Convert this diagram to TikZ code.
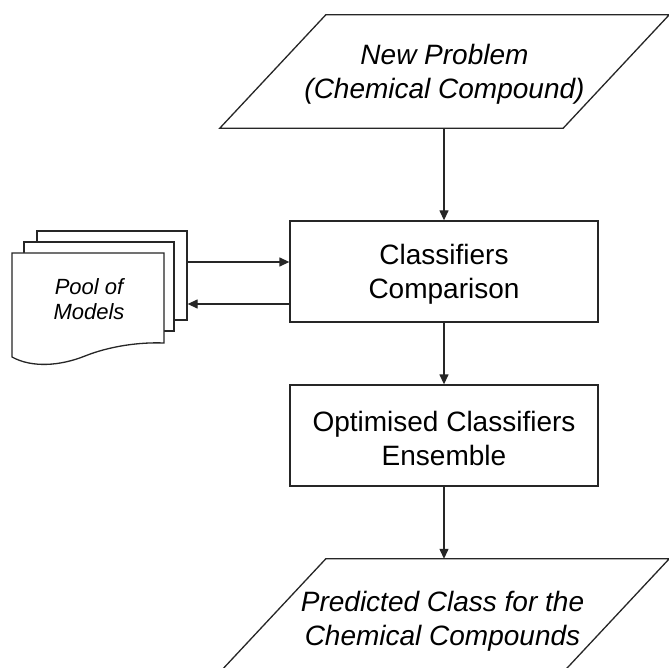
\documentclass[tikz,border=0pt]{standalone}
\usepackage{fontspec}
\setmainfont{Liberation Sans}
\usetikzlibrary{arrows.meta,calc}

\tikzset{
  line/.style={draw=black!85, line width=1.3pt},
  arr/.style={line, -{Triangle[length=10pt,width=9pt]}},
  procbox/.style={line, rectangle, minimum width=308pt, minimum height=101pt,
    inner sep=0pt},
  ioframe/.style={rectangle, minimum width=449pt, minimum height=113pt,
    inner sep=0pt},
  proctext/.style={align=center, inner sep=0pt, font=\fontsize{28}{34}\selectfont},
  iotext/.style={proctext, font=\fontsize{28}{34}\selectfont\itshape},
  sheet/.style={line, fill=white},
}

\begin{document}
\begin{tikzpicture}[x=1pt,y=-1pt]
\useasboundingbox (0,0) rectangle (669,668);
\clip (0,0) rectangle (669,668);
\fill[white] (0,0) rectangle (669,668);

% input / output parallelograms
\node[ioframe] (np) at (444.5,71.5) {};
\draw[line] ([xshift=106pt]np.north west) -- (np.north east)
  -- ([xshift=-106pt]np.south east) -- (np.south west) -- cycle;
\node[iotext] (np-text) at ([yshift=-3pt]np.center) {New Problem\\(Chemical Compound)};

\node[ioframe] (pc) at (444.5,615.5) {};
\draw[line] ([xshift=106pt]pc.north west) -- (pc.north east)
  -- ([xshift=-106pt]pc.south east) -- (pc.south west) -- cycle;
\node[iotext] (pc-text) at ([xshift=-2pt,yshift=-6pt]pc.center) {Predicted Class for the\\Chemical Compounds};

% process boxes
\node[procbox] (cc) at (444,271.5) {};
\node[proctext] (cc-text) at ([yshift=-3pt]cc.center) {Classifiers\\Comparison};
\node[procbox] (oe) at (444,435.5) {};
\node[proctext] (oe-text) at ([yshift=-3pt]oe.center) {Optimised Classifiers\\Ensemble};

% stacked documents: pool of models
\node[sheet, rectangle, minimum width=150pt, minimum height=89pt, inner sep=0pt]
  (poolback) at (112,275.5) {};
\node[sheet, rectangle, minimum width=150pt, minimum height=89pt, inner sep=0pt]
  (poolmid) at (99,286.5) {};
\draw[sheet] (12,253) -- (164,253) -- (164,343)
  .. controls (140,342) and (110,346) .. (85,356)
  .. controls (60,366) and (32,368) .. (12,357) -- cycle;
\node[font=\fontsize{22}{25}\selectfont\itshape, align=center] (pool) at (89,299)
  {Pool of\\Models};

% connectors
\draw[arr] (np.south -| cc.north) -- (cc.north);
\draw[arr] (cc.south) -- (oe.north);
\draw[arr] (oe.south) -- (oe.south |- pc.north);
\draw[arr] ([yshift=13.5pt]poolback.east) -- ([yshift=13.5pt]poolback.east -| cc.west);
\draw[arr] ([yshift=-28.5pt]poolback.east -| cc.west) -- ([yshift=-28.5pt]poolback.east);
\end{tikzpicture}
\end{document}
